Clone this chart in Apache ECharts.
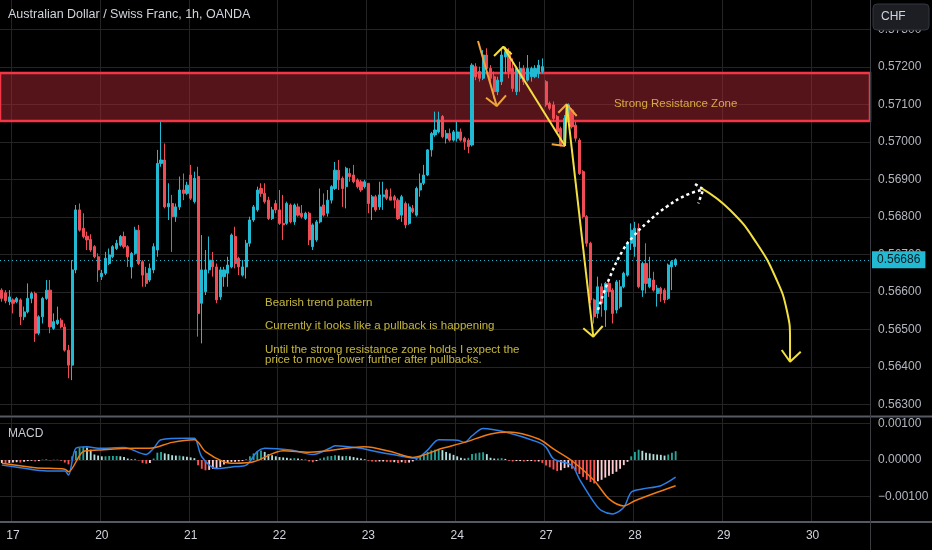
<!DOCTYPE html>
<html><head><meta charset="utf-8">
<script src="https://cdn.jsdelivr.net/npm/echarts@6/dist/echarts.min.js"></script>
<style>html,body{margin:0;padding:0;background:#000;}#c{width:932px;height:550px;}</style>
</head><body><div id="c"></div>
<script>
// ---------- data ----------
const slotCount = 235;
const dayTickIndex = [3, 27, 51, 75, 99, 123, 147, 171, 195, 219];
const dayTickLabels = ['17', '20', '21', '22', '23', '24', '27', '28', '29', '30'];
const priceTicks = [0.563, 0.564, 0.565, 0.566, 0.567, 0.568, 0.569, 0.570, 0.571, 0.572, 0.573];
const macdTicks = [-0.001, 0, 0.001];
const lastPrice = 0.56686;
const zoneRange = [0.57056, 0.57184];

// hourly candles: [open, close, low, high]
const candles = [
[0.56605,0.56583,0.56574,0.56610],[0.56598,0.56577,0.56570,0.56605],[0.56574,0.56587,0.56565,0.56605],[0.56579,0.56570,0.56543,0.56583],
[0.56574,0.56583,0.56570,0.56587],[0.56579,0.56534,0.56512,0.56583],[0.56534,0.56547,0.56525,0.56561],[0.56547,0.56583,0.56543,0.56623],
[0.56583,0.56596,0.56570,0.56601],[0.56596,0.56490,0.56467,0.56601],[0.56490,0.56534,0.56485,0.56538],[0.56534,0.56583,0.56516,0.56587],
[0.56583,0.56605,0.56579,0.56632],[0.56605,0.56507,0.56490,0.56632],[0.56503,0.56521,0.56499,0.56543],[0.56516,0.56525,0.56512,0.56561],
[0.56525,0.56507,0.56503,0.56530],[0.56507,0.56445,0.56441,0.56516],[0.56445,0.56405,0.56370,0.56459],[0.56405,0.56659,0.56365,0.56685],
[0.56659,0.56819,0.56650,0.56832],[0.56819,0.56765,0.56761,0.56836],[0.56770,0.56748,0.56743,0.56810],[0.56749,0.56739,0.56712,0.56761],
[0.56740,0.56712,0.56707,0.56754],[0.56721,0.56694,0.56690,0.56725],[0.56694,0.56659,0.56627,0.56703],[0.56641,0.56650,0.56632,0.56659],
[0.56650,0.56690,0.56645,0.56707],[0.56676,0.56699,0.56672,0.56716],[0.56694,0.56721,0.56690,0.56725],[0.56716,0.56730,0.56712,0.56739],
[0.56725,0.56748,0.56721,0.56752],[0.56748,0.56721,0.56716,0.56761],[0.56721,0.56694,0.56667,0.56725],[0.56667,0.56703,0.56636,0.56707],
[0.56703,0.56765,0.56699,0.56774],[0.56765,0.56676,0.56672,0.56779],[0.56681,0.56645,0.56614,0.56685],[0.56650,0.56623,0.56614,0.56667],
[0.56632,0.56663,0.56627,0.56676],[0.56659,0.56721,0.56650,0.56730],[0.56712,0.56943,0.56694,0.56979],[0.56943,0.56952,0.56934,0.57054],
[0.56952,0.56827,0.56823,0.56996],[0.56827,0.56836,0.56792,0.56890],[0.56836,0.56801,0.56707,0.56859],[0.56801,0.56827,0.56787,0.56836],
[0.56827,0.56872,0.56819,0.56908],[0.56872,0.56863,0.56845,0.56916],[0.56863,0.56885,0.56859,0.56894],[0.56912,0.56850,0.56845,0.56939],
[0.56841,0.56903,0.56836,0.56921],[0.56908,0.56543,0.56481,0.56934],[0.56570,0.56659,0.56463,0.56752],[0.56601,0.56659,0.56592,0.56712],
[0.56659,0.56685,0.56650,0.56748],[0.56685,0.56667,0.56641,0.56707],[0.56667,0.56579,0.56570,0.56676],[0.56587,0.56659,0.56579,0.56667],
[0.56641,0.56659,0.56614,0.56667],[0.56650,0.56672,0.56614,0.56694],[0.56667,0.56752,0.56663,0.56756],[0.56748,0.56676,0.56663,0.56774],
[0.56690,0.56667,0.56645,0.56694],[0.56645,0.56667,0.56641,0.56685],[0.56667,0.56730,0.56636,0.56739],[0.56730,0.56792,0.56721,0.56801],
[0.56792,0.56827,0.56787,0.56832],[0.56819,0.56872,0.56814,0.56881],[0.56876,0.56863,0.56854,0.56890],[0.56863,0.56841,0.56836,0.56890],
[0.56845,0.56796,0.56792,0.56854],[0.56796,0.56819,0.56792,0.56827],[0.56836,0.56819,0.56810,0.56845],[0.56819,0.56783,0.56779,0.56872],
[0.56783,0.56779,0.56739,0.56859],[0.56783,0.56836,0.56779,0.56841],[0.56832,0.56787,0.56783,0.56836],[0.56787,0.56832,0.56779,0.56836],
[0.56827,0.56805,0.56801,0.56836],[0.56810,0.56801,0.56796,0.56832],[0.56796,0.56810,0.56792,0.56814],[0.56810,0.56739,0.56725,0.56814],
[0.56721,0.56779,0.56712,0.56783],[0.56739,0.56787,0.56734,0.56792],[0.56787,0.56827,0.56783,0.56876],[0.56832,0.56805,0.56801,0.56863],
[0.56810,0.56845,0.56801,0.56872],[0.56845,0.56881,0.56836,0.56885],[0.56876,0.56925,0.56872,0.56947],[0.56925,0.56899,0.56872,0.56952],
[0.56903,0.56876,0.56827,0.56908],[0.56881,0.56930,0.56823,0.56934],[0.56916,0.56908,0.56894,0.56930],[0.56912,0.56894,0.56890,0.56939],
[0.56899,0.56881,0.56876,0.56903],[0.56894,0.56872,0.56867,0.56899],[0.56881,0.56894,0.56876,0.56899],[0.56890,0.56836,0.56810,0.56890],
[0.56827,0.56854,0.56792,0.56859],[0.56854,0.56819,0.56814,0.56859],[0.56827,0.56859,0.56819,0.56894],[0.56854,0.56859,0.56819,0.56894],
[0.56872,0.56850,0.56845,0.56876],[0.56854,0.56845,0.56845,0.56876],[0.56854,0.56845,0.56823,0.56859],[0.56845,0.56796,0.56792,0.56850],
[0.56805,0.56854,0.56787,0.56859],[0.56836,0.56779,0.56770,0.56841],[0.56783,0.56827,0.56779,0.56836],[0.56823,0.56814,0.56810,0.56832],
[0.56805,0.56876,0.56801,0.56881],[0.56872,0.56890,0.56854,0.56916],[0.56890,0.56912,0.56885,0.56939],[0.56912,0.56979,0.56909,0.56981],
[0.56979,0.57023,0.56961,0.57027],[0.57019,0.57032,0.57014,0.57081],[0.57027,0.57059,0.57023,0.57081],[0.57068,0.57014,0.57010,0.57072],
[0.57010,0.57023,0.56996,0.57032],[0.57023,0.57005,0.57001,0.57036],[0.57005,0.57027,0.57001,0.57032],[0.57010,0.57027,0.57001,0.57054],
[0.57027,0.57005,0.57001,0.57036],[0.57010,0.57001,0.56979,0.57014],[0.57005,0.56988,0.56970,0.57010],[0.56992,0.57205,0.56988,0.57210],
[0.57201,0.57174,0.57165,0.57210],[0.57188,0.57170,0.57161,0.57201],[0.57170,0.57232,0.57165,0.57245],[0.57232,0.57196,0.57188,0.57250],
[0.57196,0.57170,0.57161,0.57205],[0.57174,0.57134,0.57116,0.57188],[0.57134,0.57165,0.57125,0.57174],[0.57161,0.57232,0.57152,0.57250],
[0.57227,0.57241,0.57183,0.57254],[0.57241,0.57188,0.57170,0.57250],[0.57196,0.57143,0.57134,0.57223],[0.57134,0.57196,0.57125,0.57201],
[0.57170,0.57196,0.57134,0.57214],[0.57196,0.57161,0.57152,0.57205],[0.57165,0.57196,0.57161,0.57232],[0.57174,0.57196,0.57161,0.57201],
[0.57174,0.57196,0.57170,0.57205],[0.57183,0.57205,0.57170,0.57219],[0.57188,0.57201,0.57183,0.57223],[0.57161,0.57099,0.57094,0.57165],
[0.57103,0.57090,0.57085,0.57108],[0.57099,0.57063,0.57054,0.57108],[0.57068,0.57027,0.57023,0.57072],[0.57036,0.56992,0.56988,0.57041],
[0.57001,0.57063,0.56988,0.57072],[0.57054,0.57099,0.57045,0.57103],[0.57085,0.57041,0.57036,0.57090],[0.57045,0.57010,0.57001,0.57054],
[0.57005,0.56916,0.56912,0.57010],[0.56921,0.56801,0.56796,0.56925],[0.56801,0.56730,0.56721,0.56805],[0.56730,0.56579,0.56570,0.56734],
[0.56579,0.56534,0.56516,0.56583],[0.56543,0.56614,0.56530,0.56641],[0.56614,0.56570,0.56534,0.56623],[0.56552,0.56623,0.56507,0.56627],
[0.56623,0.56601,0.56587,0.56627],[0.56605,0.56543,0.56516,0.56610],[0.56552,0.56627,0.56543,0.56632],[0.56561,0.56614,0.56556,0.56632],
[0.56614,0.56650,0.56610,0.56654],[0.56645,0.56730,0.56641,0.56734],[0.56730,0.56765,0.56712,0.56783],[0.56721,0.56770,0.56694,0.56787],
[0.56770,0.56614,0.56610,0.56783],[0.56605,0.56676,0.56587,0.56681],[0.56676,0.56623,0.56596,0.56730],[0.56614,0.56636,0.56610,0.56694],
[0.56632,0.56605,0.56601,0.56654],[0.56596,0.56610,0.56561,0.56619],[0.56610,0.56596,0.56574,0.56614],[0.56605,0.56579,0.56570,0.56610],
[0.56583,0.56672,0.56579,0.56676],[0.56667,0.56681,0.56605,0.56685],[0.56672,0.56686,0.56667,0.56690]
];

// MACD histogram, one per candle
const macdHist = [
-0.00008,-0.00009,-0.00008,-0.00007,-0.00006,-0.00007,-0.00005,-0.00003,-0.00002,-0.00004,-0.00003,0.00001,0.00002,-0.00001,0.00001,0.00001,
-0.00002,-0.00007,-0.00012,0.00010,0.00025,0.00033,0.00036,0.00034,0.00028,0.00015,0.00012,0.00010,0.00010,0.00011,0.00011,0.00011,
0.00010,0.00008,0.00004,0.00002,0.00003,-0.00001,-0.00008,-0.00010,-0.00008,0.00004,0.00020,0.00022,0.00018,0.00016,0.00013,0.00012,
0.00012,0.00010,0.00009,0.00007,0.00005,-0.00014,-0.00024,-0.00028,-0.00027,-0.00024,-0.00022,-0.00019,-0.00012,-0.00008,-0.00005,-0.00005,
-0.00004,-0.00003,0.00002,0.00010,0.00018,0.00024,0.00026,0.00022,0.00016,0.00013,0.00010,0.00008,0.00007,0.00006,0.00004,0.00005,
0.00004,0.00002,0.00001,-0.00004,-0.00006,-0.00003,0.00004,0.00007,0.00010,0.00011,0.00013,0.00012,0.00010,0.00011,0.00010,0.00008,
0.00006,0.00004,0.00002,-0.00002,-0.00004,-0.00005,-0.00004,-0.00004,-0.00005,-0.00006,-0.00006,-0.00008,-0.00006,-0.00008,-0.00007,-0.00004,
0.00005,0.00010,0.00016,0.00022,0.00026,0.00028,0.00029,0.00027,0.00022,0.00018,0.00014,0.00010,0.00006,0.00004,0.00006,0.00016,
0.00018,0.00020,0.00021,0.00016,0.00006,0.00004,0.00004,0.00005,0.00003,-0.00002,-0.00004,-0.00003,-0.00003,-0.00004,-0.00003,-0.00003,
-0.00004,-0.00004,-0.00008,-0.00015,-0.00020,-0.00026,-0.00030,-0.00028,-0.00022,-0.00020,-0.00024,-0.00030,-0.00038,-0.00046,-0.00054,-0.00060,
-0.00064,-0.00058,-0.00054,-0.00048,-0.00043,-0.00038,-0.00032,-0.00024,-0.00014,-0.00005,0.00010,0.00022,0.00028,0.00025,0.00020,0.00018,
0.00016,0.00015,0.00014,0.00012,0.00015,0.00020,0.00024
];

// MACD and signal lines, read at candle indices
const macdLine = [[0,-0.00014],[5,-0.00021],[9,-0.00027],[13,-0.00030],[17,-0.00030],[18,-0.00041],[20,0.00032],[23,0.00036],[26,0.00032],
[33,0.00034],[39,0.00015],[41,0.00032],[43,0.00055],[50,0.00059],[52,0.00059],[54,0.00009],[58,-0.00023],[63,-0.00018],[66,-0.00014],
[69,0.00023],[71,0.00032],[78,0.00027],[84,0.00015],[89,0.00034],[90,0.00039],[97,0.00032],[101,0.00023],[106,0.00014],[112,0.00005],
[115,0.00027],[118,0.00055],[123,0.00054],[125,0.00048],[127,0.00066],[130,0.00086],[136,0.00076],[145,0.00048],[147,0.00035],[149,0.00003],
[154,-0.00015],[156,-0.00052],[160,-0.00116],[162,-0.00138],[165,-0.00147],[168,-0.00129],[170,-0.00088],[173,-0.00079],[178,-0.00070],[182,-0.00047]];
const signalLine = [[0,-0.00009],[9,-0.00021],[17,-0.00025],[18,-0.00032],[22,0.00023],[26,0.00027],[36,0.00032],[40,0.00032],[46,0.00048],
[52,0.00055],[55,0.00023],[60,-0.00005],[63,-0.00009],[68,-0.00005],[76,0.00025],[83,0.00021],[98,0.00036],[105,0.00023],[111,0.00007],
[119,0.00032],[125,0.00048],[132,0.00071],[137,0.00076],[145,0.00057],[149,0.00030],[154,-0.00002],[160,-0.00056],[164,-0.00106],
[168,-0.00125],[171,-0.00111],[177,-0.00088],[182,-0.00070]];

// drawings anchored in (candle index, price)
const legA = [[128.62,0.572693],[133.67,0.570960]];
const headV1 = [[130.78,0.571181],[133.67,0.570960],[136.18,0.571245]];
const headUp1 = [[132.94,0.572293],[135.45,0.572541],[137.72,0.572339]];
const legC = [[135.45,0.572541],[152.12,0.569893]];
const headV2 = [[148.53,0.569939],[152.12,0.569893]];
const legUp = [[152.12,0.569893],[152.57,0.571005]];
const headUp2 = [[150.31,0.570781],[152.57,0.571005],[155.28,0.570693]];
const legD = [[152.57,0.571005],[159.76,0.564808]];
const headV3 = [[157.06,0.565032],[159.76,0.564808],[162.30,0.565093]];
const pullbackPath = [[161.03,0.565520],[164.28,0.566408],[167.79,0.567120],[170.49,0.567475],[174.19,0.567840],[179.59,0.568275],[184.99,0.568587],[189.05,0.568720]];
const pullbackHead = [[187.24,0.568880],[189.48,0.568739],[188.13,0.568365]];
const dropPath = [[189.05,0.568765],[196.69,0.568187],[203.90,0.567299],[209.30,0.566320],[212.01,0.565520],[212.90,0.564720],[212.90,0.564141]];
const dropHead = [[210.65,0.564453],[212.90,0.564141],[215.79,0.564408]];
const notes = [
  [71.08, 0.565707, 'Bearish trend pattern'],
  [71.08, 0.565093, 'Currently it looks like a pullback is happening'],
  [71.08, 0.564467, 'Until the strong resistance zone holds I expect the'],
  [71.08, 0.564187, 'price to move lower further after pullbacks.']
];
const zoneNote = [[182.0, 0.571005, 'Strong Resistance Zone']];

// ---------- chart ----------
const slots = Array.from({length: slotCount}, (_, i) => String(i));
const isDay = i => dayTickIndex.indexOf(i) >= 0;
const UP = '#22b9d3', DOWN = '#ef4c56';
const GRID = '#242424';
const FONT = 'Liberation Sans, Arial, sans-serif';

const histColors = macdHist.map((v, i) => {
  const p = i > 0 ? macdHist[i - 1] : v;
  if (v >= 0) return v >= p ? '#26a69a' : '#b2dfdb';
  return v < p ? '#ff5252' : '#ffcdd2';
});

function drawing(data, color, extra) {
  return Object.assign({
    type: 'line', xAxisIndex: 1, yAxisIndex: 0, data: data, symbol: 'none', silent: true,
    lineStyle: {color: color, width: 2}, z: 10, animation: false
  }, extra || {});
}
const YEL = '#f3e040', ORG = '#f0a43a';

const option = {
  backgroundColor: '#000000',
  animation: false,
  textStyle: {fontFamily: FONT},
  grid: [
    {left: 0, right: 62, top: 0, height: 415},
    {left: 0, right: 62, top: 418, height: 103}
  ],
  xAxis: [
    {type: 'category', gridIndex: 0, data: slots, boundaryGap: true,
     axisLine: {show: false}, axisTick: {show: false}, axisLabel: {show: false},
     splitLine: {show: true, interval: (i) => isDay(i), lineStyle: {color: GRID, width: 1}}},
    {type: 'value', gridIndex: 0, min: -0.5, max: slotCount - 0.5, show: false},
    {type: 'category', gridIndex: 1, data: slots, boundaryGap: true,
     axisLine: {show: false}, axisTick: {show: false},
     axisLabel: {interval: (i) => isDay(i), formatter: (v, i) => dayTickLabels[dayTickIndex.indexOf(i)] || '',
                 color: '#d1d4dc', fontSize: 12, margin: 9, fontFamily: FONT},
     splitLine: {show: true, interval: (i) => isDay(i), lineStyle: {color: GRID, width: 1}}}
  ],
  yAxis: [
    {type: 'value', gridIndex: 0, position: 'right', min: 0.56272, max: 0.573787, scale: true,
     axisLine: {show: false},
     axisTick: {show: false, customValues: priceTicks},
     axisLabel: {customValues: priceTicks, formatter: v => v.toFixed(5), color: '#b2b5be', fontSize: 12, margin: 8, fontFamily: FONT},
     splitLine: {show: true, lineStyle: {color: GRID, width: 1}}},
    {type: 'value', gridIndex: 1, position: 'right', min: -0.001662, max: 0.001144,
     axisLine: {show: false},
     axisTick: {show: false, customValues: macdTicks},
     axisLabel: {customValues: macdTicks, formatter: v => (v < 0 ? '\u2212' : '') + Math.abs(v).toFixed(5), color: '#b2b5be', fontSize: 12, margin: 8, fontFamily: FONT},
     splitLine: {show: true, lineStyle: {color: GRID, width: 1}}}
  ],
  series: [
    {type: 'candlestick', xAxisIndex: 0, yAxisIndex: 0, data: candles, barWidth: '70%',
     itemStyle: {color: UP, color0: DOWN, borderColor: UP, borderColor0: DOWN, borderWidth: 1},
     markArea: {silent: true, itemStyle: {color: 'rgba(170,40,52,0.5)', borderColor: '#f23645', borderWidth: 2.5},
                data: [[{yAxis: zoneRange[0]}, {yAxis: zoneRange[1]}]]}},
    drawing(legA, ORG),
    drawing(headV1, ORG),
    drawing(headUp1, YEL),
    drawing(legC, YEL),
    drawing(headV2, ORG),
    drawing(legUp, YEL),
    drawing(headUp2, ORG),
    drawing(legD, YEL),
    drawing(headV3, YEL),
    drawing(pullbackPath, '#ffffff', {smooth: 0.5, lineStyle: {color: '#ffffff', width: 2.5, type: [3, 3]}}),
    drawing(pullbackHead, '#ffffff', {lineStyle: {color: '#ffffff', width: 2.5, type: [3, 3]}}),
    drawing(dropPath, YEL, {smooth: 0.5}),
    drawing(dropHead, YEL),
    {type: 'scatter', xAxisIndex: 1, yAxisIndex: 0, data: notes, symbolSize: 0, silent: true, z: 11,
     label: {show: true, position: 'right', distance: 0, formatter: p => p.data[2], color: '#f2e04a', fontSize: 11.5, fontFamily: FONT},
     markLine: {silent: true, symbol: 'none', animation: false, precision: 5,
                lineStyle: {color: UP, type: [1, 3], width: 1},
                label: {position: 'end', distance: 2, formatter: lastPrice.toFixed(5), backgroundColor: UP, color: '#0b1a20',
                        padding: [3, 5, 2, 5], fontSize: 12, fontFamily: FONT},
                data: [{yAxis: lastPrice}]}},
    {type: 'scatter', xAxisIndex: 1, yAxisIndex: 0, data: zoneNote, symbolSize: 0, silent: true, z: 11,
     label: {show: true, position: 'inside', formatter: p => p.data[2], color: '#f5cf4a', fontSize: 11.5, fontFamily: FONT}},
    {type: 'bar', xAxisIndex: 2, yAxisIndex: 1, barWidth: '50%',
     data: macdHist.map((v, i) => ({value: v, itemStyle: {color: histColors[i]}}))},
    {type: 'line', xAxisIndex: 2, yAxisIndex: 1, data: macdLine, symbol: 'none', smooth: 0.3,
     lineStyle: {color: '#2a7fe8', width: 1.5}, z: 5},
    {type: 'line', xAxisIndex: 2, yAxisIndex: 1, data: signalLine, symbol: 'none', smooth: 0.3,
     lineStyle: {color: '#f07a14', width: 1.5}, z: 5}
  ],
  graphic: [
    {type: 'text', left: 8, top: 8, z: 100, style: {text: 'Australian Dollar / Swiss Franc, 1h, OANDA', fill: '#d1d4dc', font: '12.5px ' + FONT}},
    {type: 'text', left: 8, top: 428, z: 100, style: {text: 'MACD', fill: '#c8cad2', font: '12px ' + FONT}},
    {type: 'line', z: 90, shape: {x1: 0, y1: 416.5, x2: 932, y2: 416.5}, style: {stroke: '#555961', lineWidth: 2}},
    {type: 'line', z: 90, shape: {x1: 0, y1: 522, x2: 932, y2: 522}, style: {stroke: '#555961', lineWidth: 2}},
    {type: 'line', z: 90, shape: {x1: 870.5, y1: 0, x2: 870.5, y2: 550}, style: {stroke: '#3a3c42', lineWidth: 1}},
    {type: 'rect', z: 100, shape: {x: 873, y: 4, width: 56, height: 26, r: 4}, style: {fill: '#1c1e24', stroke: '#33363e', lineWidth: 1}},
    {type: 'text', z: 101, left: 881, top: 11, style: {text: 'CHF', fill: '#d1d4dc', font: '12px ' + FONT}}
  ]
};
const chart = echarts.init(document.getElementById('c'));
chart.setOption(option);
</script>
</body></html>
